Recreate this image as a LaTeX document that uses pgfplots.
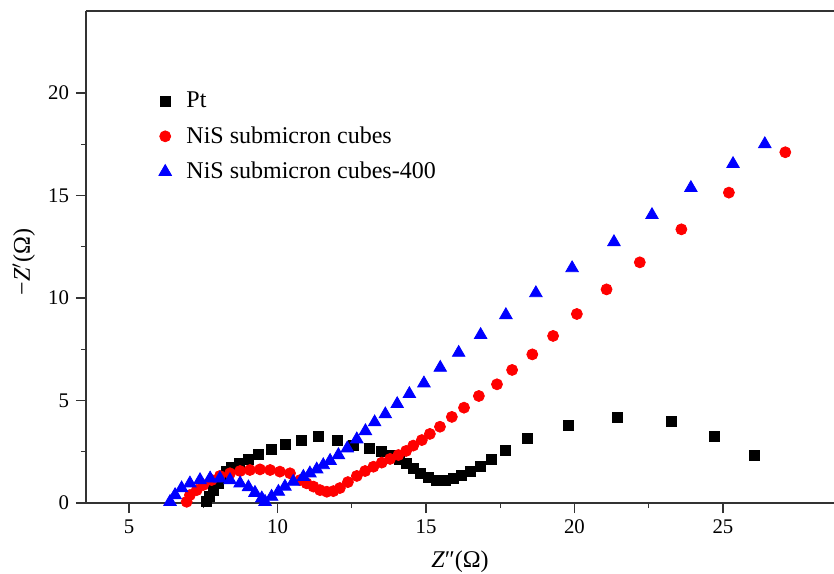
\documentclass[border=0pt]{standalone}
\usepackage{fontspec}
\setmainfont{Liberation Serif}
\usepackage{pgfplots}
\pgfplotsset{compat=1.18}
\newcommand\fs{\fontsize{10.4pt}{12.5pt}\selectfont}
\newcommand\fl{\fontsize{12pt}{14.4pt}\selectfont}
\begin{document}
\begin{tikzpicture}
\begin{axis}[
  name=ax,
  scale only axis, width=374pt, height=246pt,
  xmin=3.55, xmax=28.74, ymin=0, ymax=24,
  axis lines=left, axis line style={-, black!80, line width=0.7pt},
  xtick={5,10,15,20,25}, ytick={0,5,10,15,20},
  minor x tick num=1, minor y tick num=1,
  tick align=outside, major tick length=5pt, minor tick length=2.5pt,
  tick style={black!80, line width=0.7pt},
  /pgf/number format/assume math mode=true,
  tick label style={font=\fs},
  xlabel={\textit{Z}″(Ω)}, ylabel={−\textit{Z}$'$(Ω)},
  label style={font=\fl},
  xlabel style={at={(axis description cs:0.5,-0.132)}, anchor=base},
  ylabel style={at={(axis description cs:-0.0749,0.49)}, anchor=base},
  legend style={draw=none, fill=none, font=\fl, at={(axis description cs:0.089,0.8525)}, anchor=north west, row sep=3.9pt,
    /tikz/every odd column/.append style={column sep=5.5pt}},
  legend cell align=left,
]
\draw[black!80, line width=0.7pt] (rel axis cs:0,1) -- (rel axis cs:1,1);
\addplot[only marks, mark=square*, mark size=2.5pt, color=black] coordinates {
(7.62,0.06) (7.69,0.34) (7.84,0.63) (8.01,0.96) (8.13,1.27) (8.29,1.53)
(8.46,1.74) (8.71,1.94) (9.02,2.13) (9.37,2.37) (9.78,2.61) (10.25,2.88)
(10.82,3.04) (11.36,3.24) (12.01,3.04) (12.55,2.83) (13.08,2.67) (13.51,2.50)
(13.85,2.34) (14.12,2.15) (14.35,1.94) (14.57,1.69) (14.80,1.45) (15.08,1.23)
(15.36,1.12) (15.64,1.12) (15.92,1.20) (16.20,1.37) (16.48,1.53) (16.82,1.80)
(17.21,2.15) (17.68,2.59) (18.43,3.15) (19.79,3.80) (21.45,4.18) (23.28,3.99)
(24.71,3.27) (26.05,2.34)
};
\addlegendentry{Pt}
\addplot[only marks, mark=*, mark size=2.75pt, color=red] coordinates {
(6.94,0.06) (7.05,0.39) (7.28,0.63) (7.50,0.88) (7.78,1.12) (8.06,1.32)
(8.40,1.45) (8.74,1.56) (9.07,1.61) (9.41,1.64) (9.75,1.61) (10.08,1.53)
(10.42,1.45) (10.76,1.12) (10.98,0.96) (11.21,0.80) (11.43,0.63) (11.66,0.55)
(11.88,0.58) (12.10,0.73) (12.37,1.02) (12.67,1.32) (12.95,1.56) (13.23,1.77)
(13.51,1.97) (13.79,2.15) (14.07,2.34) (14.33,2.54) (14.57,2.80) (14.86,3.07)
(15.13,3.37) (15.47,3.72) (15.87,4.20) (16.28,4.65) (16.78,5.22) (17.39,5.79)
(17.90,6.49) (18.58,7.25) (19.28,8.15) (20.08,9.22) (21.08,10.42) (22.20,11.74)
(23.60,13.35) (25.20,15.14) (27.10,17.11)
};
\addlegendentry{NiS submicron cubes}
\addplot[only marks, mark=triangle*, mark size=3.6pt, color=blue] coordinates {
(6.38,0.06) (6.55,0.39) (6.77,0.72) (7.05,0.96) (7.39,1.12) (7.73,1.20)
(8.06,1.20) (8.40,1.12) (8.74,0.96) (9.02,0.77) (9.24,0.50) (9.47,0.23)
(9.58,0.06) (9.80,0.31) (10.03,0.55) (10.25,0.80) (10.53,1.04) (10.87,1.28)
(11.09,1.45) (11.32,1.64) (11.54,1.85) (11.77,2.06) (12.05,2.34) (12.35,2.67)
(12.67,3.11) (12.96,3.51) (13.27,3.94) (13.63,4.33) (14.03,4.83) (14.44,5.32)
(14.93,5.84) (15.48,6.60) (16.10,7.33) (16.84,8.20) (17.69,9.17) (18.70,10.24)
(19.92,11.46) (21.33,12.73) (22.61,14.05) (23.92,15.37) (25.34,16.54) (26.41,17.51)
};
\addlegendentry{NiS submicron cubes-400}
\end{axis}
\pgfresetboundingbox
\path ([xshift=-43pt,yshift=-35pt]ax.south west) rectangle ([yshift=5.5pt]ax.north east);
\end{tikzpicture}
\end{document}
